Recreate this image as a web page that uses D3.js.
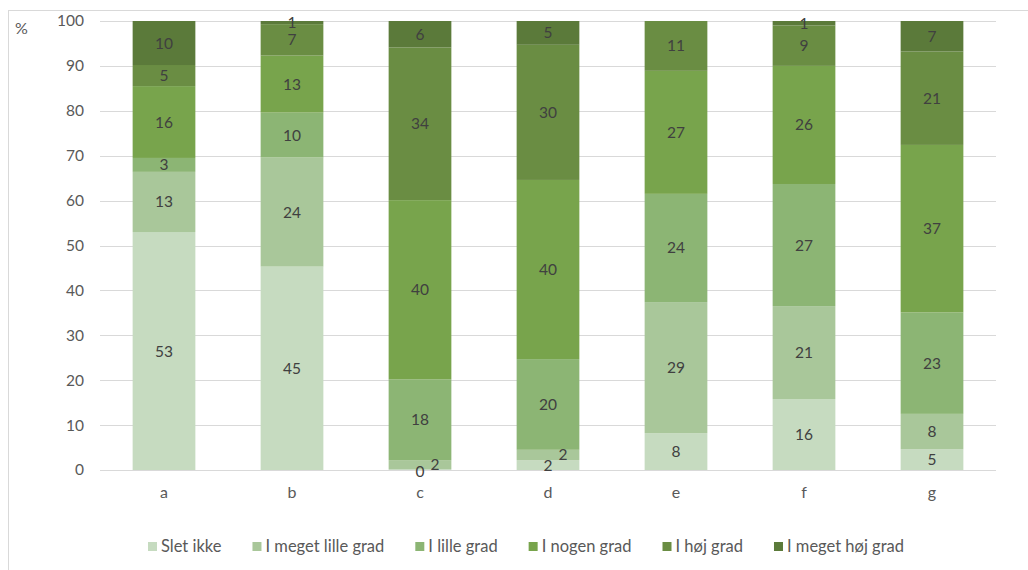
<!DOCTYPE html>
<html>
<head>
<meta charset="utf-8">
<script src="https://cdn.jsdelivr.net/npm/d3@7"></script>
<style>
  html, body { margin: 0; padding: 0; background: #fff; }
  svg { display: block; font-family: Lato, "Open Sans", sans-serif; }
</style>
</head>
<body>
<svg id="chart" width="1028" height="570"></svg>
<script>
// ---- data ----
const categories = ["a", "b", "c", "d", "e", "f", "g"];
const seriesNames = ["Slet ikke", "I meget lille grad", "I lille grad", "I nogen grad", "I høj grad", "I meget høj grad"];
const sletIkke        = [53.0, 45.3, 0.2, 2.2, 8.2, 15.8, 4.6];
const megetLilleGrad  = [13.4, 24.3, 2.0, 2.3, 29.2, 20.7, 7.9];
const lilleGrad       = [3.1, 10.0, 18.0, 20.2, 24.1, 27.2, 22.6];
const nogenGrad       = [16.0, 12.7, 39.9, 39.9, 27.4, 26.3, 37.3];
const hoejGrad        = [4.7, 7.0, 34.0, 30.1, 11.1, 9.0, 20.8];
const megetHoejGrad   = [9.8, 0.7, 5.9, 5.3, 0.0, 1.0, 6.8];
const yTicks = [0, 10, 20, 30, 40, 50, 60, 70, 80, 90, 100];
const colors = ["#c6dbc0", "#a9c79a", "#8cb574", "#78a44c", "#6a8d43", "#5b7a3a"];

const seriesValues = [sletIkke, megetLilleGrad, lilleGrad, nogenGrad, hoejGrad, megetHoejGrad];
const table = categories.map((c, i) => {
  const row = { cat: c };
  seriesNames.forEach((s, j) => row[s] = seriesValues[j][i]);
  return row;
});

const svg = d3.select("#chart");
const margin = { left: 100, right: 32, top: 21, bottom: 100 };
const W = 1028, H = 570;

// outer chart border
svg.append("rect").attr("x", 8.5).attr("y", 10.5).attr("width", 1040).attr("height", 600)
  .attr("fill", "none").attr("stroke", "#d9d9d9").attr("stroke-width", 1);

const x = d3.scaleBand().domain(categories).range([margin.left, W - margin.right]).paddingInner(0.51).paddingOuter(0.255);
const y = d3.scaleLinear().domain([0, 100]).range([470, margin.top]);

// gridlines
svg.append("g").selectAll("line").data(yTicks).join("line")
  .attr("x1", margin.left).attr("x2", W - margin.right)
  .attr("y1", d => Math.round(y(d)) + 0.5).attr("y2", d => Math.round(y(d)) + 0.5)
  .attr("stroke", "#d9d9d9").attr("stroke-width", 1);

// y axis labels
const yAxis = d3.axisLeft(y).tickValues(yTicks).tickSize(0).tickPadding(0);
const yg = svg.append("g").attr("transform", "translate(84,0)").call(yAxis);
yg.select(".domain").remove();
yg.selectAll("text").attr("fill", "#595959").style("font-size", "15.5px").style("font-family", "Lato, sans-serif");

svg.append("text").attr("x", 15).attr("y", 34).text("%")
  .attr("fill", "#595959").style("font-size", "16px");

// x axis labels
const xAxis = d3.axisBottom(x).tickSize(0).tickPadding(0);
const xg = svg.append("g").attr("transform", "translate(0,487)").call(xAxis);
xg.select(".domain").remove();
xg.selectAll("text").attr("fill", "#595959").style("font-size", "16px").style("font-family", "Lato, sans-serif");

// stacks
const stack = d3.stack().keys(seriesNames);
const stacked = stack(table);

const layers = svg.append("g").selectAll("g").data(stacked).join("g")
  .attr("fill", (d, i) => colors[i]);
layers.selectAll("rect").data(d => d.map(p => ({ p, key: d.key }))).join("rect")
  .attr("x", d => x(d.p.data.cat))
  .attr("width", x.bandwidth())
  .attr("y", d => y(d.p[1]))
  .attr("height", d => y(d.p[0]) - y(d.p[1]));

// data labels
const labels = [];
stacked.forEach((layer, j) => {
  layer.forEach((p, i) => {
    const v = p[1] - p[0];
    const cat = p.data.cat;
    if (j >= 4 && v <= 0) return;
    labels.push({ cat, j, v, mid: (p[0] + p[1]) / 2, i });
  });
});
// shift labels of tiny adjacent segments to avoid overlap
labels.forEach(l => {
  l.dx = 0;
  const prev = labels.find(o => o.cat === l.cat && o.j === l.j - 1);
  if (l.j > 0 && l.v < 3 && prev && prev.v < 3) { l.dx = 15; }
});
svg.append("g").selectAll("text").data(labels).join("text")
  .attr("x", d => x(d.cat) + x.bandwidth() / 2 + d.dx)
  .attr("y", d => y(d.mid) + 5.5 + (d.v < 1 && d.j === 0 ? 2 : 0))
  .attr("text-anchor", "middle")
  .attr("fill", "#404040")
  .style("font-size", "15.5px")
  .text(d => Math.round(d.v));

// legend
const legend = svg.append("g");
const items = legend.selectAll("g").data(seriesNames).join("g");
items.append("rect").attr("width", 9).attr("height", 9).attr("y", -10)
  .attr("fill", (d, i) => colors[i]);
items.append("text").attr("x", 13).attr("y", 0).text(d => d)
  .attr("fill", "#595959").style("font-size", "16.5px");
let cx = 0;
const gap = 31;
items.each(function () {
  const w = 13 + this.querySelector("text").getComputedTextLength();
  d3.select(this).attr("transform", `translate(${cx},0)`);
  cx += w + gap;
});
const total = cx - gap;
legend.attr("transform", `translate(${526 - total / 2},552)`);
</script>
</body>
</html>
